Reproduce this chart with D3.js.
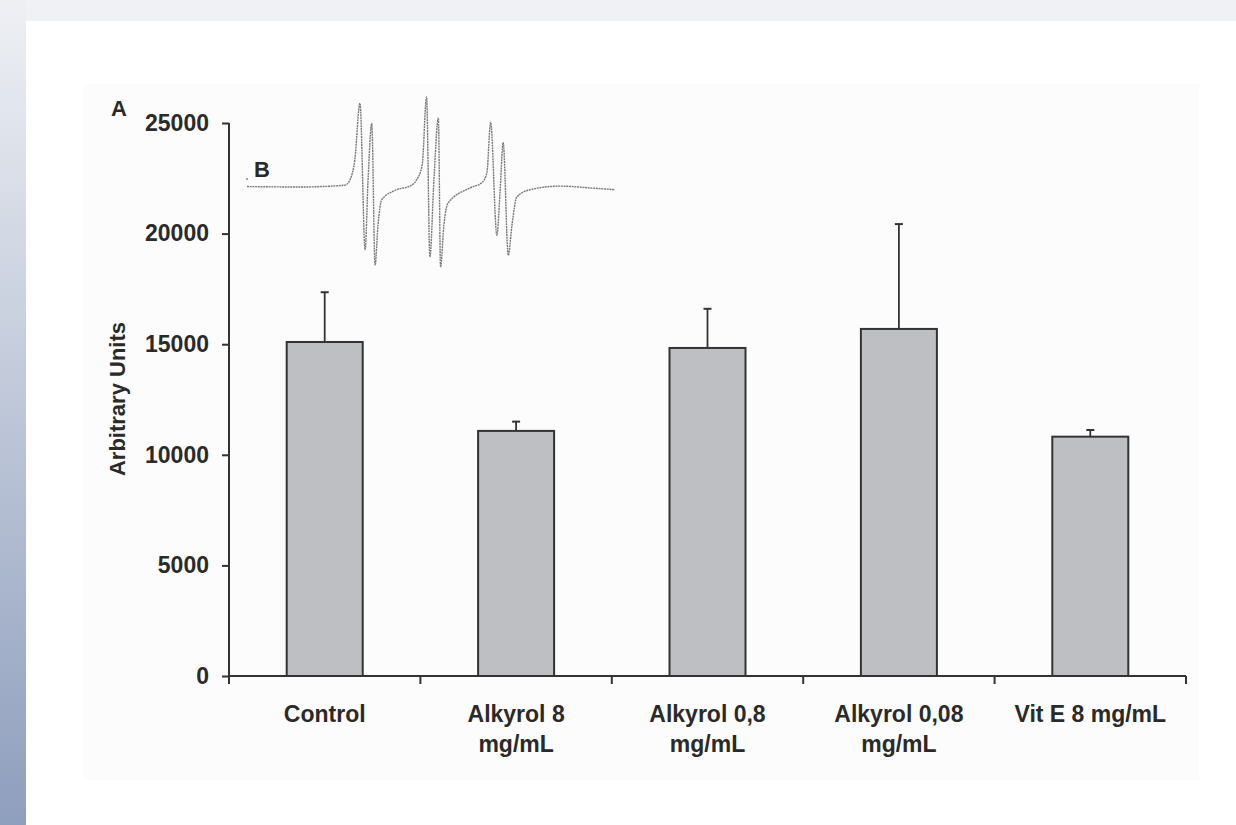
<!DOCTYPE html>
<html>
<head>
<meta charset="utf-8">
<script src="https://cdn.jsdelivr.net/npm/d3@7"></script>
<style>
  html, body { margin: 0; padding: 0; background: #ffffff; }
  svg { display: block; }
  text { font-family: "Liberation Sans", Arial, sans-serif; font-weight: bold; fill: #2a2a2a; }
</style>
</head>
<body>
<svg id="chart" width="1236" height="825"></svg>
<script>
// ---- data ----
const categories = ["Control", "Alkyrol 8|mg/mL", "Alkyrol 0,8|mg/mL", "Alkyrol 0,08|mg/mL", "Vit E 8 mg/mL"];
const means = [15100, 11080, 14830, 15690, 10820];
const errorTops = [17350, 11500, 16600, 20430, 11120];
const yTicks = [0, 5000, 10000, 15000, 20000, 25000];
// EPR spectrum inset (B): field position (a.u.) and signal (a.u.)
const eprField = [0, 14.4, 26.6, 28.0, 29.3, 30.7, 32.1, 32.9, 33.9, 34.8, 35.6, 36.6, 40.7, 44.3, 46.1, 47.6, 48.8, 49.7, 50.8, 52.0, 52.6, 53.5, 54.6, 60.6, 63.9, 65.2, 66.2, 67.9, 68.8, 69.6, 71.0, 72.0, 73.3, 76.9, 85.1, 93.2, 100];
const eprSignal = [0.005, 0, 0.02, 0.08, 0.30, 0.92, -0.69, 0.08, 0.70, -0.86, -0.42, -0.14, -0.03, 0.01, 0.08, 0.24, 0.99, -0.77, 0.08, 0.76, -0.88, -0.42, -0.18, -0.01, 0.05, 0.16, 0.71, -0.53, -0.03, 0.49, -0.75, -0.42, -0.11, -0.03, 0.01, -0.01, -0.03];

const svg = d3.select("#chart");
const W = 1236, H = 825;

// ---- page background ----
const defs = svg.append("defs");
const grad = defs.append("linearGradient").attr("id", "sideGrad")
  .attr("x1", 0).attr("y1", 0).attr("x2", 0).attr("y2", 1);
grad.append("stop").attr("offset", "0%").attr("stop-color", "#eef0f4");
grad.append("stop").attr("offset", "45%").attr("stop-color", "#c3cbdb");
grad.append("stop").attr("offset", "100%").attr("stop-color", "#8e9ebd");

svg.append("rect").attr("x", 0).attr("y", 0).attr("width", W).attr("height", H).attr("fill", "#ffffff");
svg.append("rect").attr("x", 0).attr("y", 0).attr("width", W).attr("height", 21).attr("fill", "#eff1f5");
svg.append("rect").attr("x", 0).attr("y", 0).attr("width", 26).attr("height", H).attr("fill", "url(#sideGrad)");
svg.append("rect").attr("x", 83).attr("y", 84).attr("width", 1116).attr("height", 696).attr("fill", "#fcfcfc");

// ---- scales ----
const x0 = 229, x1 = 1186, yTop = 123, yBottom = 676;
const xb = d3.scaleBand().domain(categories).range([x0, x1]);
const y = d3.scaleLinear().domain([0, 25000]).range([yBottom, yTop]);

// ---- bars ----
const g = svg.append("g");
const data = categories.map((c, i) => ({ c, v: means[i], e: errorTops[i] }));

// error bars (behind bars)
g.selectAll(".err").data(data).enter().append("line")
  .attr("x1", d => xb(d.c) + xb.bandwidth() / 2).attr("x2", d => xb(d.c) + xb.bandwidth() / 2)
  .attr("y1", d => y(d.v)).attr("y2", d => y(d.e))
  .attr("stroke", "#333").attr("stroke-width", 1.8);
g.selectAll(".cap").data(data).enter().append("line")
  .attr("x1", d => xb(d.c) + xb.bandwidth() / 2 - 4).attr("x2", d => xb(d.c) + xb.bandwidth() / 2 + 4)
  .attr("y1", d => y(d.e)).attr("y2", d => y(d.e))
  .attr("stroke", "#333").attr("stroke-width", 2);

g.selectAll(".bar").data(data).enter().append("rect")
  .attr("x", d => xb(d.c) + (xb.bandwidth() - 76) / 2)
  .attr("width", 76)
  .attr("y", d => y(d.v))
  .attr("height", d => y(0) - y(d.v))
  .attr("fill", "#bebfc3").attr("stroke", "#333").attr("stroke-width", 2);

// ---- axes ----
const yAxis = svg.append("g").attr("transform", `translate(${x0},0)`)
  .call(d3.axisLeft(y).tickValues(yTicks).tickFormat(d3.format("d")).tickSize(7).tickPadding(13));
yAxis.select(".domain").remove();
yAxis.append("line").attr("x1", 0).attr("x2", 0).attr("y1", yTop).attr("y2", yBottom + 8)
  .attr("stroke", "#333").attr("stroke-width", 2);
yAxis.selectAll(".tick line").attr("stroke", "#333").attr("stroke-width", 2);
yAxis.selectAll(".tick text").attr("font-size", 23).attr("fill", "#2a2a2a")
  .attr("font-family", "Liberation Sans, Arial, sans-serif").attr("font-weight", "bold");

const boundaries = categories.map(c => xb(c)).concat([x1]);
const xAxisG = svg.append("g");
xAxisG.append("line").attr("x1", x0).attr("x2", x1).attr("y1", yBottom).attr("y2", yBottom)
  .attr("stroke", "#333").attr("stroke-width", 2);
xAxisG.selectAll(".xt").data(boundaries).enter().append("line")
  .attr("x1", d => d).attr("x2", d => d).attr("y1", yBottom).attr("y2", yBottom + 8)
  .attr("stroke", "#333").attr("stroke-width", 2);

xAxisG.selectAll(".xl").data(categories).enter().append("text")
  .attr("text-anchor", "middle")
  .attr("font-size", 23)
  .each(function (c) {
    const parts = c.split("|");
    const t = d3.select(this);
    parts.forEach((p, i) => {
      t.append("tspan").attr("x", xb(c) + xb.bandwidth() / 2).attr("y", 722 + i * 30).text(p);
    });
  });

// axis title
svg.append("text").attr("transform", "translate(125,399) rotate(-90)")
  .attr("text-anchor", "middle").attr("font-size", 22).text("Arbitrary Units");

// panel labels
svg.append("text").attr("x", 111).attr("y", 116).attr("font-size", 22).text("A");
svg.append("text").attr("x", 254).attr("y", 177).attr("font-size", 22).text("B");

// ---- EPR inset ----
const ex = d3.scaleLinear().domain([0, 100]).range([247, 615]);
const ey = d3.scaleLinear().domain([-1, 1]).range([278, 96]);
const epr = eprField.map((f, i) => [f, eprSignal[i]]);
svg.append("path").datum(epr)
  .attr("d", d3.line().x(d => ex(d[0])).y(d => ey(d[1])).curve(d3.curveMonotoneX))
  .attr("fill", "none").attr("stroke", "#7a7a7a").attr("stroke-width", 1.4)
  .attr("stroke-dasharray", "2,0.7");
svg.append("circle").attr("cx", ex(0)).attr("cy", 179).attr("r", 1).attr("fill", "#888");
</script>
</body>
</html>
